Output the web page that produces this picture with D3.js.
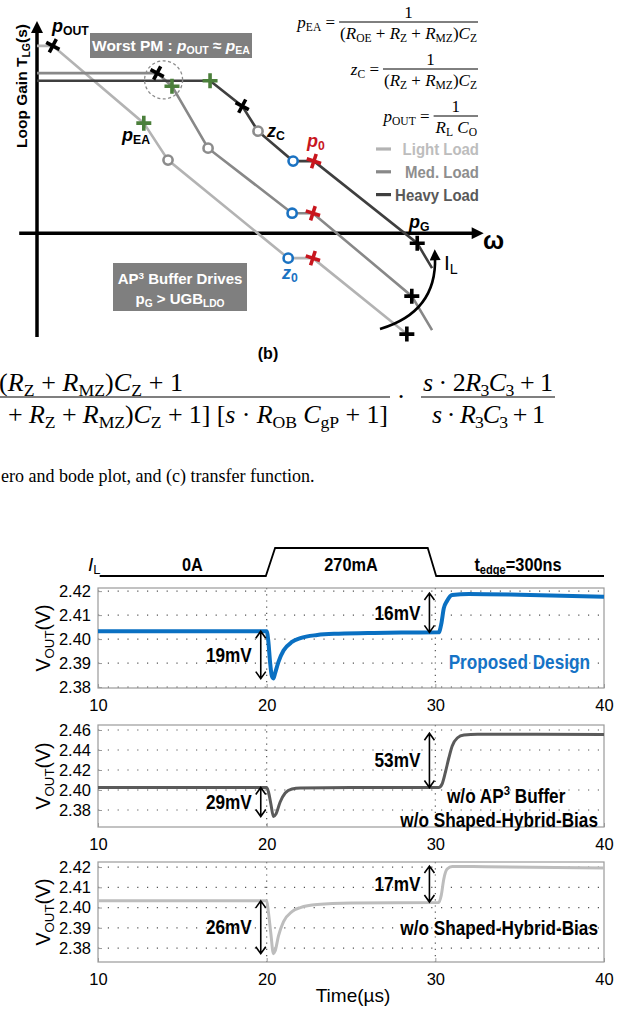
<!DOCTYPE html>
<html>
<head>
<meta charset="utf-8">
<script src="https://cdn.jsdelivr.net/npm/d3@7"></script>
<style>
  body { margin: 0; background: #fff; }
  svg { display: block; }
</style>
</head>
<body>
<div id="chart"></div>
<script>
// ---------------- data ----------------
// Bode sketch: w = log10(omega) in decades, g = loop gain in dB (sketch units)
// m = marker drawn at that corner
const lightLoad = [
  {w: 0.00, g: 110.0, m: ""},
  {w: 0.32, g: 110.0, m: "pOUT"},
  {w: 2.16, g: 64.6, m: "pEA"},
  {w: 2.65, g: 42.9, m: "zC"},
  {w: 5.08, g: -14.7, m: "z0"},
  {w: 5.58, g: -14.7, m: "p0"},
  {w: 7.48, g: -59.3, m: "pG"}
];
const medLoad = [
  {w: 0.00, g: 94.0, m: ""},
  {w: 2.43, g: 94.0, m: "pOUT"},
  {w: 2.73, g: 86.3, m: "pEA"},
  {w: 3.46, g: 49.9, m: "zC"},
  {w: 5.16, g: 11.7, m: "z0"},
  {w: 5.58, g: 11.7, m: "p0"},
  {w: 7.58, g: -37.0, m: "pG"},
  {w: 7.99, g: -57.0, m: ""}
];
const heavyLoad = [
  {w: 0.00, g: 89.5, m: ""},
  {w: 3.50, g: 89.5, m: "pEA"},
  {w: 4.15, g: 74.6, m: "pOUT"},
  {w: 4.47, g: 59.9, m: "zC"},
  {w: 5.18, g: 42.3, m: "z0"},
  {w: 5.60, g: 42.3, m: "p0"},
  {w: 7.69, g: -5.9, m: "pG"},
  {w: 7.99, g: -20.6, m: ""}
];
const loadNames = ["Light Load", "Med. Load", "Heavy Load"];

// Load transient: time in us
const timeTicks = [10, 20, 30, 40];
const loadCurrent = [[10.1, 0], [19.95, 0], [20.5, 270], [29.55, 270], [30.05, 0], [40, 0]];
const loadLabels = [{t: 15.6, text: "0A"}, {t: 25.0, text: "270mA"}];

const proposedTicks = [2.38, 2.39, 2.40, 2.41, 2.42];
const proposed = [
  [10, 2.4033], [20.0, 2.4033], [20.1, 2.3990], [20.2, 2.3905], [20.3, 2.3848], [20.4, 2.3836],
  [20.5, 2.3858], [20.7, 2.3905], [21.0, 2.3952], [21.5, 2.3988], [22, 2.4004], [23, 2.4017],
  [24, 2.4022], [26, 2.4025], [28, 2.4027], [30.2, 2.4028], [30.35, 2.4062], [30.5, 2.4128],
  [30.7, 2.4160], [31.0, 2.4184], [32, 2.4188], [35, 2.4185], [40, 2.4176]
];
const noBufferTicks = [2.38, 2.40, 2.42, 2.44, 2.46];
const noBuffer = [
  [10, 2.4025], [20.0, 2.4025], [20.1, 2.3985], [20.25, 2.3860], [20.4, 2.3735], [20.55, 2.3760],
  [20.8, 2.3880], [21.1, 2.3970], [21.5, 2.4010], [22, 2.4020], [25, 2.4025], [30.2, 2.4025],
  [30.4, 2.4060], [30.6, 2.4180], [30.8, 2.4320], [31.0, 2.4440], [31.3, 2.4520], [31.7, 2.4550],
  [32.5, 2.4558], [36, 2.4558], [40, 2.4555]
];
const noBiasTicks = [2.38, 2.39, 2.40, 2.41, 2.42];
const noBias = [
  [10, 2.4033], [20.0, 2.4033], [20.1, 2.3980], [20.25, 2.3870], [20.4, 2.3772], [20.5, 2.3785],
  [20.7, 2.3860], [21.0, 2.3930], [21.5, 2.3980], [22, 2.4000], [23, 2.4015], [25, 2.4022],
  [30.2, 2.4025], [30.35, 2.4060], [30.5, 2.4140], [30.7, 2.4190], [31.0, 2.4203], [33, 2.4202],
  [40, 2.4195]
];
// measured over/undershoots: [time, from, to, label]
const proposedMarks = [[29.65, 2.4028, 2.4192, "16mV"], [19.65, 2.4033, 2.3835, "19mV"]];
const noBufferMarks = [[29.65, 2.4025, 2.4568, "53mV"], [19.65, 2.4025, 2.3735, "29mV"]];
const noBiasMarks = [[29.65, 2.4027, 2.4205, "17mV"], [19.65, 2.4033, 2.3772, "26mV"]];

// ---------------- setup ----------------
const width = 627, height = 1011;
const SANS = "'Liberation Sans', Arial, Helvetica, sans-serif";
const SERIF = "'Liberation Serif', 'Times New Roman', Times, serif";

const svg = d3.select("#chart").append("svg")
  .attr("width", width).attr("height", height)
  .attr("viewBox", `0 0 ${width} ${height}`);

const defs = svg.append("defs");
defs.append("marker").attr("id", "axArrow")
  .attr("viewBox", "0 0 10 10").attr("refX", 2).attr("refY", 5)
  .attr("markerWidth", 14).attr("markerHeight", 12)
  .attr("markerUnits", "userSpaceOnUse").attr("orient", "auto")
  .append("path").attr("d", "M0,0 L10,5 L0,10 Z").attr("fill", "#000");
defs.append("marker").attr("id", "arcArrow")
  .attr("viewBox", "0 0 10 10").attr("refX", 3).attr("refY", 5)
  .attr("markerWidth", 12).attr("markerHeight", 11)
  .attr("markerUnits", "userSpaceOnUse").attr("orient", "auto")
  .append("path").attr("d", "M0,0 L10,5 L0,10 Z").attr("fill", "#000");

// text with sub/superscripts: parts = [text, flags] ; flags i=italic s=sub S=sup
function rich(parent, x, y, parts, size, attrs = {}, subDrop = 0.17) {
  const t = parent.append("text").attr("x", x).attr("y", y).attr("font-size", size);
  Object.entries(attrs).forEach(([k, v]) => t.attr(k, v));
  let cur = 0;
  parts.forEach(p => {
    const [str, f = ""] = typeof p === "string" ? [p] : p;
    let off = 0, fs = size;
    if (f.includes("s")) { off = size * subDrop; fs = size * 0.68; }
    if (f.includes("S")) { off = -size * 0.36; fs = size * 0.66; }
    const ts = t.append("tspan").text(str).attr("dy", off - cur);
    cur = off;
    if (fs !== size) ts.attr("font-size", fs);
    if (f.includes("i")) ts.attr("font-style", "italic");
  });
  return t;
}
// condensed bold labels (narrow face is not installed, so squeeze horizontally)
function narrow(parent, x, y, parts, size, attrs = {}, k = 0.86) {
  const g = parent.append("g").attr("transform", `translate(${x},${y}) scale(${k},1)`);
  return rich(g, 0, 0, parts, size, Object.assign({"font-weight": "bold"}, attrs));
}

// ---------------- (b) bode sketch ----------------
const bode = svg.append("g").attr("font-family", SANS);
const xB = d3.scaleLinear().domain([0, 9]).range([37, 482]);
const yB = d3.scaleLinear().domain([-61, 124]).range([337, 22]);

// axes
bode.append("line")
  .attr("x1", xB(0)).attr("y1", yB(-61)).attr("x2", xB(0)).attr("y2", yB(119))
  .attr("stroke", "#000").attr("stroke-width", 3.5).attr("marker-end", "url(#axArrow)");
bode.append("line")
  .attr("x1", xB(-0.36)).attr("y1", yB(0)).attr("x2", xB(8.84)).attr("y2", yB(0))
  .attr("stroke", "#000").attr("stroke-width", 3.5).attr("marker-end", "url(#axArrow)");

const loadColors = ["#b3b3b3", "#888888", "#3f3f3f"];
const loads = [lightLoad, medLoad, heavyLoad];
const bodeLine = d3.line().x(d => xB(d.w)).y(d => yB(d.g));

loads.forEach((data, i) => {
  bode.append("path").datum(data)
    .attr("d", bodeLine).attr("fill", "none")
    .attr("stroke", loadColors[i]).attr("stroke-width", 2.6);
});

// dashed "worst PM" circle
bode.append("circle").attr("cx", xB(2.56)).attr("cy", yB(90)).attr("r", 19)
  .attr("fill", "none").attr("stroke", "#8a8a8a").attr("stroke-width", 1.3)
  .attr("stroke-dasharray", "3,2.5");

const markStyle = {
  pOUT: {c: "#000", rot: 28},
  pEA: {c: "#4b7f3b", rot: 0},
  p0: {c: "#c8161e", rot: 18},
  pG: {c: "#000", rot: 0}
};
loads.forEach((data, i) => {
  data.filter(d => d.m).forEach(d => {
    const cx = xB(d.w), cy = yB(d.g);
    if (d.m === "zC" || d.m === "z0") {
      bode.append("circle").attr("cx", cx).attr("cy", cy).attr("r", 4.6)
        .attr("fill", "#fff")
        .attr("stroke", d.m === "z0" ? "#1a72c2" : "#8c8c8c").attr("stroke-width", 2.6);
    } else {
      const s = markStyle[d.m];
      const g = bode.append("g").attr("transform", `translate(${cx},${cy}) rotate(${s.rot})`);
      g.append("path").attr("d", "M-7.5,0 H7.5 M0,-7.5 V7.5")
        .attr("stroke", s.c).attr("stroke-width", 3.6).attr("fill", "none");
    }
  });
});

// labels on the sketch
rich(bode, 52, 32, [["p", "i"], ["OUT", "s"]], 18, {"font-weight": "bold"});
rich(bode, 122, 141, [["p", "i"], ["EA", "s"]], 18, {"font-weight": "bold"});
rich(bode, 267, 137, [["z", "i"], ["C", "s"]], 18, {"font-weight": "bold"});
rich(bode, 307, 147, [["p", "i"], ["0", "s"]], 18, {"font-weight": "bold", fill: "#c8161e"});
rich(bode, 282, 279, [["z", "i"], ["0", "s"]], 18, {"font-weight": "bold", fill: "#1a72c2"});
rich(bode, 409, 228, [["p", "i"], ["G", "s"]], 18, {"font-weight": "bold"});
rich(bode, 444, 270, [["I"], ["L", "s"]], 21, {});
bode.append("text").attr("x", 483).attr("y", 249).attr("font-size", 25)
  .attr("font-weight", "bold").text("ω");
bode.append("path").attr("d", "M380,329 Q437,312 435,257")
  .attr("fill", "none").attr("stroke", "#000").attr("stroke-width", 2.6)
  .attr("marker-end", "url(#arcArrow)");

// y axis title
rich(bode.append("g").attr("transform", "translate(27,86) rotate(-90)"), 0, 0,
  [["Loop Gain T"], ["LG", "s"], ["(s)"]], 15.5, {"font-weight": "bold", "text-anchor": "middle"});

// grey boxes
bode.append("rect").attr("x", 90).attr("y", 33).attr("width", 162).attr("height", 25).attr("fill", "#7f7f7f");
rich(bode, 171, 51, [["Worst PM : "], ["p", "i"], ["OUT", "s"], [" ≈ "], ["p", "i"], ["EA", "s"]], 15.5,
  {"font-weight": "bold", fill: "#fff", "text-anchor": "middle"});
bode.append("rect").attr("x", 113).attr("y", 263).attr("width", 134).attr("height", 48).attr("fill", "#7f7f7f");
rich(bode, 180, 284, [["AP"], ["3", "S"], [" Buffer Drives"]], 15, {"font-weight": "bold", fill: "#fff", "text-anchor": "middle"});
rich(bode, 180, 304, [["p"], ["G", "s"], [" > UGB"], ["LDO", "s"]], 15, {"font-weight": "bold", fill: "#fff", "text-anchor": "middle"});

bode.append("text").attr("x", 268).attr("y", 359).attr("text-anchor", "middle")
  .attr("font-size", 16).attr("font-weight", "bold").text("(b)");

// legend
loadNames.forEach((name, i) => {
  const y = 149 + i * 22.8;
  bode.append("line").attr("x1", 376).attr("x2", 391).attr("y1", y).attr("y2", y)
    .attr("stroke", loadColors[i]).attr("stroke-width", 3.2);
  narrow(bode, 479, y + 6, [[name]], 17, {"text-anchor": "end", fill: ["#bdbdbd", "#8e8e8e", "#595959"][i]}, 0.88);
});

// pole / zero formulas
const eq = svg.append("g").attr("font-family", SERIF);
function fraction(parent, right, barY, num, den, lhs, size) {
  const d = rich(parent, right - 1, barY + 17, den, size, {"text-anchor": "end"}, 0.2);
  const bb = d.node().getBBox();
  const left = bb.x - 1;
  parent.append("line").attr("x1", left).attr("x2", right).attr("y1", barY).attr("y2", barY)
    .attr("stroke", "#000").attr("stroke-width", 1);
  rich(parent, (left + right) / 2, barY - 4, num, size, {"text-anchor": "middle"});
  if (lhs) rich(parent, left - 4, barY + 5.5, lhs, size, {"text-anchor": "end"}, 0.2);
}
fraction(eq, 478, 22, [["1"]],
  [["("], ["R", "i"], ["OE", "s"], [" + "], ["R", "i"], ["Z", "s"], [" + "], ["R", "i"], ["MZ", "s"], [")"], ["C", "i"], ["Z", "s"]],
  [["p", "i"], ["EA", "s"], [" ="]], 17);
fraction(eq, 478, 69, [["1"]],
  [["("], ["R", "i"], ["Z", "s"], [" + "], ["R", "i"], ["MZ", "s"], [")"], ["C", "i"], ["Z", "s"]],
  [["z", "i"], ["C", "s"], [" ="]], 17);
fraction(eq, 478, 116, [["1"]],
  [["R", "i"], ["L", "s"], [" "], ["C", "i"], ["O", "s"]],
  [["p", "i"], ["OUT", "s"], [" ="]], 17);

// (c) transfer function, cut at the left edge like the page crop
const tf = 26;
rich(eq, -1, 391, [["("], ["R", "i"], ["Z", "s"], [" + "], ["R", "i"], ["MZ", "s"], [")"], ["C", "i"], ["Z", "s"], [" + 1"]],
  tf, {textLength: 184, lengthAdjust: "spacing"}, 0.2);
eq.append("line").attr("x1", 0).attr("x2", 390).attr("y1", 397).attr("y2", 397).attr("stroke", "#000").attr("stroke-width", 1.2);
rich(eq, 8, 423, [["+ "], ["R", "i"], ["Z", "s"], [" + "], ["R", "i"], ["MZ", "s"], [")"], ["C", "i"], ["Z", "s"], [" + 1] ["], ["s", "i"], [" · "], ["R", "i"], ["OB", "s"], [" "], ["C", "i"], ["gP", "s"], [" + 1]"]],
  tf, {textLength: 380, lengthAdjust: "spacing"}, 0.2);
eq.append("text").attr("x", 401).attr("y", 405).attr("font-size", tf).attr("text-anchor", "middle").text("·");
rich(eq, 423, 391, [["s", "i"], [" · 2"], ["R", "i"], ["3", "s"], ["C", "i"], ["3", "s"], [" + 1"]], tf,
  {textLength: 130, lengthAdjust: "spacing"}, 0.2);
eq.append("line").attr("x1", 421).attr("x2", 555).attr("y1", 397).attr("y2", 397).attr("stroke", "#000").attr("stroke-width", 1.2);
rich(eq, 432, 423, [["s", "i"], [" · "], ["R", "i"], ["3", "s"], ["C", "i"], ["3", "s"], [" + 1"]], tf,
  {textLength: 113, lengthAdjust: "spacing"}, 0.2);

eq.append("text").attr("x", 1).attr("y", 482).attr("font-size", 18)
  .text("ero and bode plot, and (c) transfer function.");

// ---------------- load transient ----------------
const wave = svg.append("g").attr("font-family", SANS);
const xT = d3.scaleLinear().domain([10, 40]).range([98, 604]);

// load current step
const yI = d3.scaleLinear().domain([0, 270]).range([576, 548]);
wave.append("path").datum(loadCurrent)
  .attr("d", d3.line().x(d => xT(d[0])).y(d => yI(d[1])))
  .attr("fill", "none").attr("stroke", "#000").attr("stroke-width", 1.8);
rich(wave, 88, 571, [["I", "i"], ["L", "s"]], 19, {});
loadLabels.forEach(d => {
  narrow(wave, xT(d.t), 571, [[d.text]], 19, {"text-anchor": "middle"});
});
narrow(wave, 518, 571, [["t"], ["edge", "s"], ["=300ns"]], 19, {"text-anchor": "middle"});

const panels = [
  {data: proposed, ticks: proposedTicks, fmt: ".2f", dom: [2.3796, 2.4213], top: 588, bottom: 688,
   color: "#0a70c2", lw: 4, marks: proposedMarks,
   notes: [{text: "Proposed Design", v: 2.3905, color: "#1573c6", x: 590}]},
  {data: noBuffer, ticks: noBufferTicks, fmt: ".2f", dom: [2.363, 2.465], top: 725, bottom: 827,
   color: "#5a5a5a", lw: 3, marks: noBufferMarks,
   notes: [{parts: [["w/o AP"], ["3", "S"], [" Buffer"]], v: 2.3945, x: 447, anchor: "start"},
           {text: "w/o Shaped-Hybrid-Bias", v: 2.370}]},
  {data: noBias, ticks: noBiasTicks, fmt: ".2f", dom: [2.3731, 2.4225], top: 862, bottom: 962,
   color: "#bdbdbd", lw: 3, marks: noBiasMarks,
   notes: [{text: "w/o Shaped-Hybrid-Bias", v: 2.3897}]}
];

panels.forEach(p => {
  const g = wave.append("g");
  const y = d3.scaleLinear().domain(p.dom).range([p.bottom, p.top]);
  const [x0, x1] = xT.range();

  // dotted grid
  g.selectAll(".hg").data(p.ticks).join("line")
    .attr("x1", x0).attr("x2", x1).attr("y1", d => y(d)).attr("y2", d => y(d))
    .attr("stroke", "#555").attr("stroke-width", 1.2).attr("stroke-dasharray", "1.2,8.6");
  g.selectAll(".vg").data([20, 30]).join("line")
    .attr("x1", d => xT(d)).attr("x2", d => xT(d)).attr("y1", p.top).attr("y2", p.bottom)
    .attr("stroke", "#555").attr("stroke-width", 1.2).attr("stroke-dasharray", "1.2,5");

  // box + ticks
  g.append("rect").attr("x", x0).attr("y", p.top).attr("width", x1 - x0).attr("height", p.bottom - p.top)
    .attr("fill", "none").attr("stroke", "#9a9a9a").attr("stroke-width", 1.2);
  const yAx = g.append("g").attr("transform", `translate(${x0},0)`)
    .call(d3.axisLeft(y).tickValues(p.ticks).tickFormat(d3.format(p.fmt)).tickSize(-4).tickPadding(7));
  yAx.select(".domain").remove();
  yAx.selectAll("line").attr("stroke", "#9a9a9a");
  yAx.selectAll("text").attr("font-family", SANS).attr("font-size", 16.5).attr("fill", "#000");
  const xAx = g.append("g").attr("transform", `translate(0,${p.bottom})`)
    .call(d3.axisBottom(xT).tickValues(timeTicks).tickSize(-4).tickPadding(11));
  xAx.select(".domain").remove();
  xAx.selectAll("line").attr("stroke", "#9a9a9a");
  xAx.selectAll("text").attr("font-family", SANS).attr("font-size", 16.5).attr("fill", "#000");

  // y title
  rich(g.append("g").attr("transform", `translate(50,${(p.top + p.bottom) / 2}) rotate(-90)`), 0, 0,
    [["V"], ["OUT", "s"], ["(V)"]], 19.5, {"text-anchor": "middle"}, 0.2);

  // waveform
  g.append("path").datum(p.data)
    .attr("d", d3.line().x(d => xT(d[0])).y(d => y(d[1])).curve(d3.curveMonotoneX))
    .attr("fill", "none").attr("stroke", p.color).attr("stroke-width", p.lw)
    .attr("stroke-linejoin", "round");

  // deviation arrows
  p.marks.forEach(([t, a, b, label]) => {
    const ax = xT(t), ya = y(a), yb = y(b);
    const dir = yb < ya ? 1 : -1;
    g.append("path")
      .attr("d", `M${ax},${ya} V${yb} M${ax - 5},${yb + dir * 7} L${ax},${yb} L${ax + 5},${yb + dir * 7}` +
                 ` M${ax - 5},${ya - dir * 7} L${ax},${ya} L${ax + 5},${ya - dir * 7}`)
      .attr("fill", "none").attr("stroke", "#000").attr("stroke-width", 1.6);
    narrow(g, ax - 9, (ya + yb) / 2 + 7, [[label]], 20, {"text-anchor": "end"});
  });

  // curve notes
  p.notes.forEach(n => {
    narrow(g, n.x || 598, y(n.v) + 7, n.parts || [[n.text]], 20,
      {"text-anchor": n.anchor || "end", fill: n.color || "#000"});
  });
});

wave.append("text").attr("x", 353).attr("y", 1002).attr("text-anchor", "middle")
  .attr("font-size", 19).text("Time(µs)");
</script>
</body>
</html>
